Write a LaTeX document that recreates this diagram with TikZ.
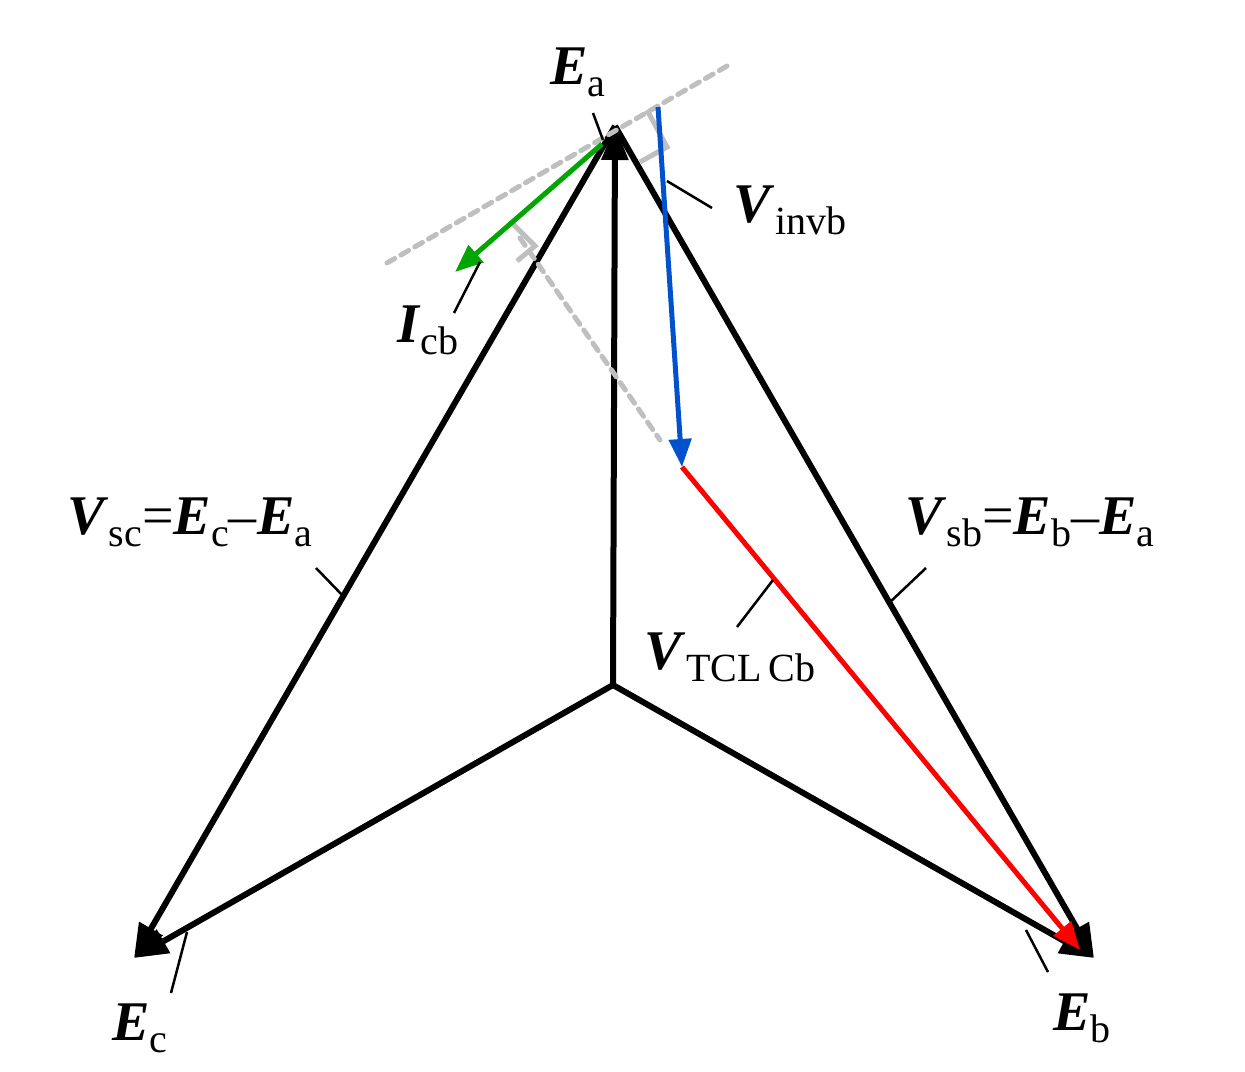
\documentclass[tikz,border=0pt]{standalone}
\usepackage{fontspec}
\setmainfont{Liberation Serif}
\usetikzlibrary{arrows.meta}
\begin{document}
\begin{tikzpicture}[x=1pt,y=-1pt,
  vec/.style={line width=6pt,-{Triangle[length=34pt,width=26pt]}},
  cvec/.style={line width=5pt,-{Triangle[length=28pt,width=22pt]}},
  lead/.style={line width=2.5pt},
  gd/.style={line width=5pt,gray!50,dash pattern=on 9pt off 7pt,line cap=round},
  lbl/.style={inner sep=0pt,font=\fontsize{56}{60}\selectfont},
  sub/.style={font=\fontsize{40}{44}\selectfont}]
\useasboundingbox (0,0) rectangle (1245,1071);
\coordinate (O) at (613,685);
\coordinate (A) at (615,126);
\coordinate (B) at (1094,958);
\coordinate (C) at (134,958);
\draw[vec] (O) -- (A);
\draw[vec] (O) -- (B);
\draw[vec] (O) -- (C);
\draw[vec] (A) -- (B);
\draw[vec] (A) -- (C);
% gray dashed
\coordinate (g1) at (387,263);
\coordinate (g2) at (727,66);
\coordinate (g3) at (520,238);
\coordinate (g4) at (660,440);
\draw[gd] (g1) -- (g2);
\draw[gd] (g3) -- (g4);
\draw[line width=5pt,gray!50] (511,222) -- (535,246) -- (517,261);
\draw[line width=5pt,gray!50] (647,110) -- (667,147) -- (640,162);
% colored vectors
\coordinate (bs) at (658,107);
\coordinate (M) at (682,467);
\draw[cvec,blue!60!cyan!80!black] (bs) -- (M);
\draw[cvec,red] (M) -- (1080,950);
\draw[cvec,green!65!black] (602,144) -- (455,272);
% labels
\node[lbl] (la) at (578,72) {\textbf{\textit{E}}\raisebox{-12pt}{\fontsize{40}{44}\selectfont a}};
\draw[lead] (593,113) -- (603,140);
\node[lbl] (lb) at (1082,1018) {\textbf{\textit{E}}\raisebox{-12pt}{\fontsize{40}{44}\selectfont b}};
\draw[lead] (1048,972) -- (1026,930);
\node[lbl] (lc) at (140,1028) {\textbf{\textit{E}}\raisebox{-12pt}{\fontsize{40}{44}\selectfont c}};
\draw[lead] (171,993) -- (187,932);
\node[lbl] (lv) at (790,210) {\textbf{\textit{V}}\raisebox{-12pt}{\fontsize{40}{44}\selectfont invb}};
\draw[lead] (667,181) -- (712,208);
\node[lbl] (li) at (428,330) {\textbf{\textit{I}}\raisebox{-12pt}{\fontsize{40}{44}\selectfont cb}};
\draw[lead] (454,313) -- (480,262);
\node[lbl] (lsc) at (190,522) {\textbf{\textit{V}}\raisebox{-12pt}{\fontsize{40}{44}\selectfont sc}=\textbf{\textit{E}}\raisebox{-12pt}{\fontsize{40}{44}\selectfont c}–\textbf{\textit{E}}\raisebox{-12pt}{\fontsize{40}{44}\selectfont a}};
\draw[lead] (316,568) -- (345,598);
\node[lbl] (lsb) at (1030,522) {\textbf{\textit{V}}\raisebox{-12pt}{\fontsize{40}{44}\selectfont sb}=\textbf{\textit{E}}\raisebox{-12pt}{\fontsize{40}{44}\selectfont b}–\textbf{\textit{E}}\raisebox{-12pt}{\fontsize{40}{44}\selectfont a}};
\draw[lead] (926,568) -- (888,604);
\node[lbl] (lt) at (730,657) {\textbf{\textit{V}}\raisebox{-12pt}{\fontsize{40}{44}\selectfont TCL\,Cb}};
\draw[lead] (737,627) -- (773,580);
\end{tikzpicture}
\end{document}
